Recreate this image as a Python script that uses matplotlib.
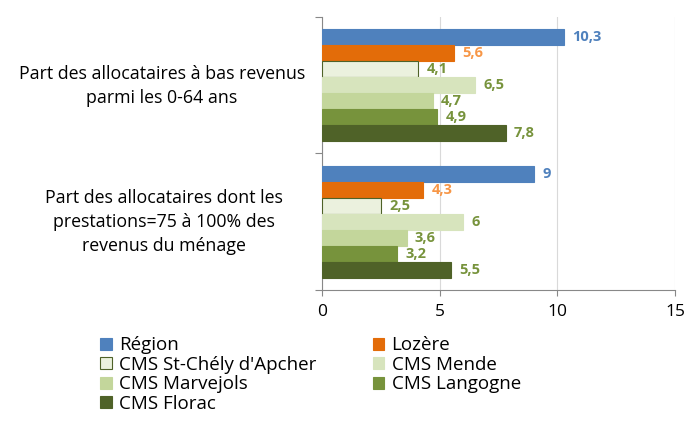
import matplotlib.pyplot as plt
import numpy as np

plt.rcParams['font.family'] = ['Open Sans', 'DejaVu Sans']

categories = ["Part des allocataires à bas revenus\nparmi les 0-64 ans",
              "Part des allocataires dont les\nprestations=75 à 100% des\nrevenus du ménage"]
series = ["Région", "Lozère", "CMS St-Chély d'Apcher", "CMS Mende",
          "CMS Marvejols", "CMS Langogne", "CMS Florac"]
values = [[10.3, 9], [5.6, 4.3], [4.1, 2.5], [6.5, 6],
          [4.7, 3.6], [4.9, 3.2], [7.8, 5.5]]
labels = [["10,3", "9"], ["5,6", "4,3"], ["4,1", "2,5"], ["6,5", "6"],
          ["4,7", "3,6"], ["4,9", "3,2"], ["7,8", "5,5"]]

colors = ["#4F81BD", "#E36C09", "#EBF1DE", "#D7E4BD", "#C3D69B", "#77933C", "#4F6228"]
edges = ["#4F81BD", "#E36C09", "#4F6228", "#D7E4BD", "#C3D69B", "#77933C", "#4F6228"]
lab_colors = ["#4F81BD", "#F79646"] + ["#77933C"] * 5

fig = plt.figure(figsize=(6.87, 4.24), dpi=100)
ax = fig.add_axes([0.4687, 0.316, 0.5138, 0.644])

h = 0.117
y0 = np.arange(len(categories))
handles = []
for i, s in enumerate(series):
    y = y0 - 3 * h + i * h
    b = ax.barh(y, values[i], height=h, color=colors[i], edgecolor=edges[i],
                linewidth=0.8, label=s, zorder=3)
    handles.append(b)
    for yy, v, t in zip(y, values[i], labels[i]):
        ax.text(v + 0.35, yy, t, va='center', ha='left', fontsize=10.5,
                fontweight='bold', color=lab_colors[i])

ax.set_xlim(0, 15)
ax.set_ylim(1.5, -0.5)
ax.set_xticks([0, 5, 10, 15])
ax.tick_params(axis='x', labelsize=12.5, direction='out', length=4, color='#888888', pad=6)
ax.set_yticks([-0.5, 0.5, 1.5])
ax.set_yticklabels([])
ax.tick_params(axis='y', direction='out', length=5, color='#888888')
ax.grid(axis='x', color='#D9D9D9', linewidth=0.8, zorder=0)
for sp in ['top', 'right']:
    ax.spines[sp].set_visible(False)
for sp in ['left', 'bottom']:
    ax.spines[sp].set_color('#888888')

# category labels, left of the axis
fig.text(162 / 687, 1 - 86 / 424, categories[0], ha='center', va='center',
         fontsize=12.8, multialignment='center', linespacing=1.4)
fig.text(164 / 687, 1 - 222 / 424, categories[1], ha='center', va='center',
         fontsize=12.8, multialignment='center', linespacing=1.4)

order = [0, 2, 4, 6, 1, 3, 5]
fig.legend([handles[k] for k in order], [series[k] for k in order], ncol=2,
           loc='upper left', bbox_to_anchor=(91 / 687, 1 - 327 / 424), frameon=False,
           fontsize=13.5, handlelength=0.6, handleheight=0.6, handletextpad=0.4,
           columnspacing=3.0, labelspacing=0.08, borderpad=0)

fig.savefig("out.png", dpi=100)
